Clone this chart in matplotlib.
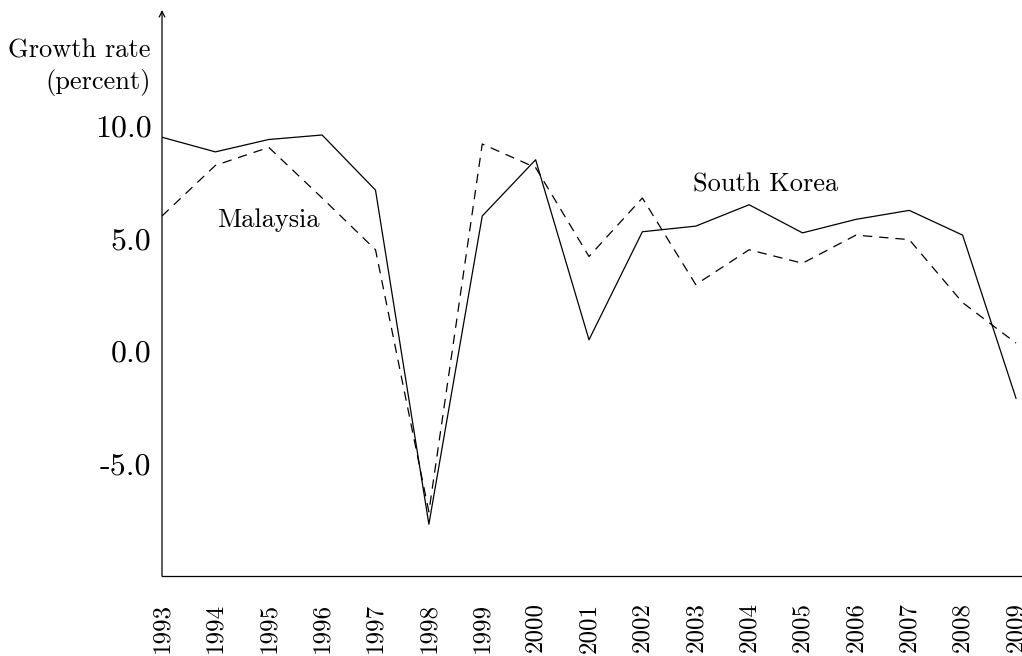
import numpy as np
import matplotlib
matplotlib.use("Agg")
import matplotlib.pyplot as plt

# --- dane ---
years = list(range(1993, 2010))
south_korea = [9.5, 8.85, 9.4, 9.6, 7.15, -7.7, 6.0, 8.5, 0.5, 5.3, 5.55, 6.5, 5.25, 5.85, 6.25, 5.15, -2.1]
malaysia = [6.0, 8.25, 9.05, 6.8, 4.5, -7.15, 9.2, 8.15, 4.2, 6.8, 2.95, 4.5, 3.9, 5.15, 4.95, 2.15, 0.35]
y_ticks = [-5, 0, 5, 10]
y_tick_labels = ["-5.0", "0.0", "5.0", "10.0"]

plt.rcParams["font.family"] = ["cmr10", "DejaVu Sans"]
plt.rcParams["axes.unicode_minus"] = False

fig = plt.figure(figsize=(10.22, 6.56), dpi=100)
ax = fig.add_axes([162 / 1022, 1 - 576 / 656, 860 / 1022, 566 / 656])

ax.plot(years, south_korea, color="black", lw=0.9)
ax.plot(years, malaysia, color="black", lw=0.9, linestyle=(0, (7.5, 5.5)))

ax.set_xlim(1993, 1993 + 860 / 53.375)
ax.set_ylim(-10, 341 / 22.5)

ax.set_xticks(years)
ax.set_xticklabels([str(y) for y in years], rotation=90, fontsize=18)
ax.set_yticks(y_ticks)
ax.set_yticklabels(y_tick_labels, fontsize=23)
ax.tick_params(axis="x", length=0, pad=19)
ax.tick_params(axis="y", length=0, pad=7.5)

for s in ["top", "right", "left"]:
    ax.spines[s].set_visible(False)
ax.spines["bottom"].set_linewidth(0.9)

# oś Y ze strzałką
ax.annotate("", xy=(0, 1), xytext=(0, 0), xycoords="axes fraction",
            arrowprops=dict(arrowstyle="->", lw=0.9, color="black",
                            shrinkA=0, shrinkB=0, mutation_scale=10))

ax.text(-0.013, 12.6, "Growth rate\n(percent)", transform=ax.get_yaxis_transform(),
        ha="right", va="center", fontsize=19, linespacing=1.3, multialignment="right")

ax.text(1995, 5.8, "Malaysia", ha="center", va="center", fontsize=19)
ax.text(2004.3, 7.4, "South Korea", ha="center", va="center", fontsize=19)

fig.savefig("out.png", dpi=100)
